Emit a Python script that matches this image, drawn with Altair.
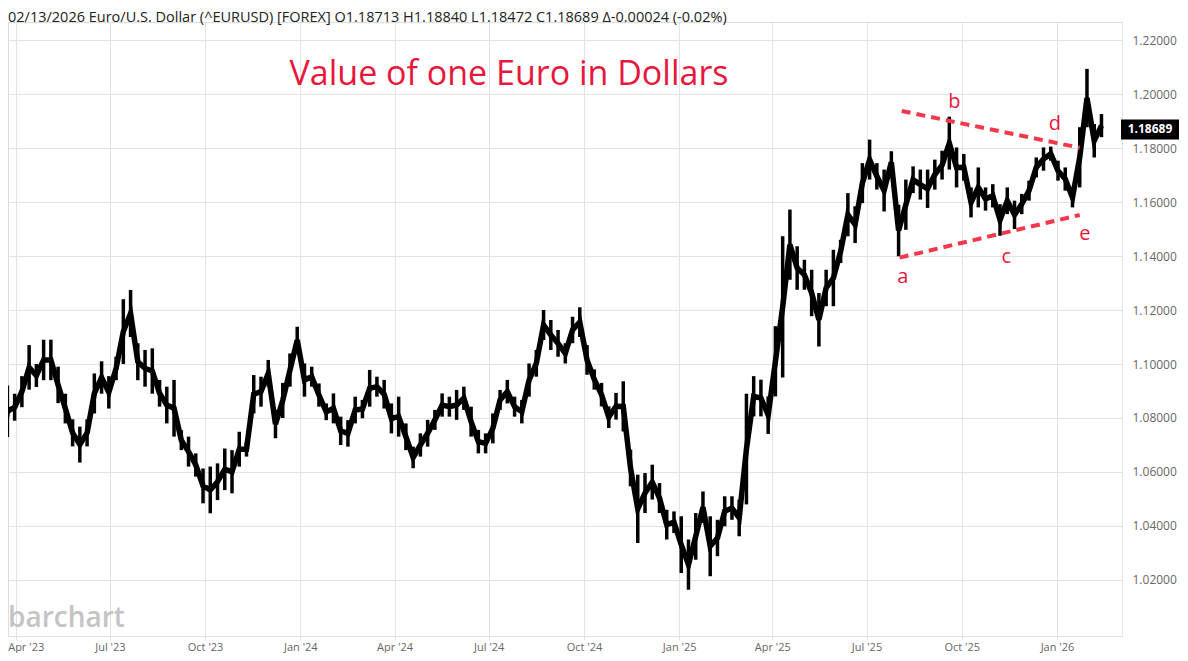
import altair as alt
import pandas as pd

# ---------------- data (weekly extents) ----------------
first_week = "2023-03-17"
lows = [
    1.0610, 1.0730, 1.0790, 1.0840, 1.0905, 1.0915, 1.0940, 1.0940, 1.0855, 1.0780,
    1.0695, 1.0635, 1.0695, 1.0817, 1.0890, 1.0835, 1.0940, 1.1000, 1.1100, 1.0940,
    1.0916, 1.0890, 1.0842, 1.0780, 1.0731, 1.0681, 1.0620, 1.0583, 1.0484, 1.0447,
    1.0496, 1.0533, 1.0521, 1.0620, 1.0657, 1.0817, 1.0842, 1.0916, 1.0725, 1.0800,
    1.0916, 1.1039, 1.0879, 1.0916, 1.0842, 1.0792, 1.0780, 1.0700, 1.0694, 1.0780,
    1.0799, 1.0842, 1.0879, 1.0835, 1.0743, 1.0731, 1.0681, 1.0614, 1.0657, 1.0694,
    1.0756, 1.0805, 1.0805, 1.0793, 1.0830, 1.0731, 1.0669, 1.0669, 1.0706, 1.0830,
    1.0854, 1.0805, 1.0780, 1.0879, 1.0953, 1.1089, 1.1052, 1.1027, 1.1002, 1.1077,
    1.1100, 1.0960, 1.0905, 1.0843, 1.0763, 1.0794, 1.0750, 1.0547, 1.0337, 1.0448,
    1.0498, 1.0448, 1.0350, 1.0374, 1.0226, 1.0164, 1.0275, 1.0411, 1.0214, 1.0288,
    1.0399, 1.0423, 1.0362, 1.0480, 1.0806, 1.0806, 1.0741, 1.0880, 1.0950, 1.1312,
    1.1275, 1.1275, 1.1177, 1.1065, 1.1214, 1.1214, 1.1374, 1.1473, 1.1448, 1.1596,
    1.1683, 1.1646, 1.1565, 1.1707, 1.1399, 1.1497, 1.1633, 1.1609, 1.1578, 1.1646,
    1.1683, 1.1720, 1.1654, 1.1679, 1.1543, 1.1580, 1.1568, 1.1580, 1.1475, 1.1555,
    1.1500, 1.1555, 1.1605, 1.1691, 1.1716, 1.1753, 1.1679, 1.1642, 1.1580, 1.1654,
    1.1877, 1.1765, 1.1840,
]
highs = [
    1.0720, 1.0920, 1.0890, 1.0955, 1.1070, 1.1000, 1.1090, 1.1090, 1.0990, 1.0890,
    1.0795, 1.0768, 1.0795, 1.0965, 1.1010, 1.0955, 1.1027, 1.1240, 1.1274, 1.1077,
    1.1052, 1.1058, 1.0941, 1.0916, 1.0941, 1.0755, 1.0731, 1.0669, 1.0613, 1.0620,
    1.0632, 1.0687, 1.0681, 1.0749, 1.0712, 1.0959, 1.0953, 1.1015, 1.0830, 1.0930,
    1.1039, 1.1138, 1.1002, 1.0990, 1.0928, 1.0854, 1.0891, 1.0805, 1.0792, 1.0879,
    1.0867, 1.0978, 1.0953, 1.0941, 1.0854, 1.0879, 1.0780, 1.0694, 1.0743, 1.0793,
    1.0830, 1.0891, 1.0879, 1.0904, 1.0916, 1.0842, 1.0756, 1.0743, 1.0817, 1.0904,
    1.0941, 1.0879, 1.0867, 1.1002, 1.1052, 1.1200, 1.1163, 1.1126, 1.1077, 1.1175,
    1.1210, 1.1070, 1.0980, 1.0930, 1.0843, 1.0893, 1.0936, 1.0683, 1.0590, 1.0596,
    1.0627, 1.0559, 1.0460, 1.0454, 1.0436, 1.0350, 1.0448, 1.0528, 1.0436, 1.0423,
    1.0510, 1.0510, 1.0498, 1.0890, 1.0955, 1.0942, 1.0880, 1.1140, 1.1473, 1.1572,
    1.1436, 1.1386, 1.1349, 1.1263, 1.1349, 1.1423, 1.1460, 1.1633, 1.1584, 1.1744,
    1.1831, 1.1744, 1.1720, 1.1788, 1.1590, 1.1683, 1.1732, 1.1720, 1.1720, 1.1757,
    1.1790, 1.1916, 1.1802, 1.1778, 1.1654, 1.1728, 1.1654, 1.1666, 1.1592, 1.1654,
    1.1605, 1.1630, 1.1679, 1.1765, 1.1802, 1.1805, 1.1753, 1.1728, 1.1654, 1.1877,
    1.2093, 1.1889, 1.1926,
]
dates = pd.date_range(first_week, periods=len(lows), freq="7D").strftime("%Y-%m-%d").tolist()

last_close = 1.18689
header = ("02/13/2026 Euro/U.S. Dollar (^EURUSD) [FOREX] O1.18713 H1.18840 "
          "L1.18472 C1.18689 \u0394-0.00024 (-0.02%)")
title_text = "Value of one Euro in Dollars"

tick_dates = ["2023-04-01", "2023-07-01", "2023-10-01", "2024-01-01", "2024-04-01",
              "2024-07-01", "2024-10-01", "2025-01-01", "2025-04-01", "2025-07-01",
              "2025-10-01", "2026-01-01"]
y_ticks = [1.02, 1.04, 1.06, 1.08, 1.10, 1.12, 1.14, 1.16, 1.18, 1.20, 1.22]

# triangle trend lines (b-d upper, a-e lower)
tl_start = ["2025-08-04", "2025-08-02"]
tl_end = ["2026-01-23", "2026-01-23"]
tl_y1 = [1.1937, 1.1394]
tl_y2 = [1.1801, 1.1552]

wave_labels = ["a", "b", "c", "d", "e"]
wave_dates = ["2025-08-05", "2025-09-24", "2025-11-13", "2025-12-30", "2026-01-28"]
wave_prices = [1.1322, 1.1970, 1.1396, 1.1889, 1.1481]

# ---------------- chart ----------------
FONT = "Open Sans"
W, H = 1114, 614
RED = "#e8173c"
GRID = "#e3e3e3"

df = pd.DataFrame({"date": dates, "lo": lows, "hi": highs})
tl = pd.DataFrame({"d1": tl_start, "d2": tl_end, "p1": tl_y1, "p2": tl_y2})
wl = pd.DataFrame({"date": wave_dates, "p": wave_prices, "t": wave_labels})
badge = pd.DataFrame({"v": [last_close], "t": [f"{last_close:.5f}"]})

xscale = alt.Scale(type="utc", domain=["2023-03-24T14:00:00Z", "2026-03-04T20:00:00Z"])
yscale = alt.Scale(domain=[0.999259, 1.226667], zero=False, nice=False)

xaxis = alt.Axis(
    title=None, values=[alt.DateTime(year=int(d[:4]), month=int(d[5:7]), date=1, utc=True) for d in tick_dates],
    format="%b '%y", labelFont=FONT, labelFontSize=11, labelColor="#666",
    grid=True, gridColor=GRID, tickColor=GRID, tickSize=4, domainColor=GRID,
    labelPadding=1, labelFlush=10, labelFlushOffset=8,
)
yaxis = alt.Axis(
    title=None, orient="right", values=y_ticks, format=".5f", labelFont=FONT,
    labelFontSize=12, labelColor="#666", grid=True, gridColor=GRID, ticks=False,
    domainColor=GRID, labelPadding=10,
)

mid = alt.Chart(df).transform_calculate(m="(datum.lo + datum.hi) / 2").mark_line(
    color="black", strokeWidth=5.5, clip=True
).encode(
    x=alt.X("date:T", scale=xscale, axis=xaxis),
    y=alt.Y("m:Q", scale=yscale, axis=yaxis),
)
spikes = alt.Chart(df).mark_rule(color="black", strokeWidth=3.5, clip=True).encode(
    x="date:T", y="lo:Q", y2="hi:Q"
)

lines = alt.Chart(tl).mark_rule(color="#f2384a", strokeWidth=4, strokeDash=[9, 6]).encode(
    x="d1:T", x2="d2:T", y="p1:Q", y2="p2:Q"
)
letters = alt.Chart(wl).mark_text(color=RED, font=FONT, fontSize=20, baseline="middle").encode(
    x="date:T", y="p:Q", text="t:N"
)

badge_box = alt.Chart(badge).mark_rect(color="black", yOffset=-10, y2Offset=10, clip=False).encode(
    x=alt.value(W - 1), x2=alt.value(W + 57), y="v:Q", y2="v:Q"
)
badge_txt = alt.Chart(badge).mark_text(color="white", font=FONT, fontSize=12, fontWeight="bold",
                                        align="center", baseline="middle").encode(
    x=alt.value(W + 28), y="v:Q", text="t:N"
)

hdr = alt.Chart(pd.DataFrame({"t": [header]})).mark_text(
    align="left", baseline="top", font=FONT, fontSize=14.5, color="#222"
).encode(x=alt.value(0), y=alt.value(-11), text="t:N")

ttl = alt.Chart(pd.DataFrame({"t": [title_text]})).mark_text(
    align="center", baseline="middle", font=FONT, fontSize=34, color=RED
).encode(x=alt.value(501), y=alt.value(53), text="t:N")

wm = alt.Chart(pd.DataFrame({"t": ["barchart"]})).mark_text(
    align="left", baseline="alphabetic", font=FONT, fontSize=28, fontWeight=600, color="#c4c4c4"
).encode(x=alt.value(0), y=alt.value(605), text="t:N")

chart = alt.layer(wm, spikes, mid, lines, letters, badge_box, badge_txt, hdr, ttl).properties(
    width=W, height=H,
    autosize=alt.AutoSizeParams(type="none"),
    padding={"left": 0, "top": 14, "right": 58, "bottom": 17},
).configure_view(stroke=None).configure(background="white")

chart.save("out.html", embed_options={"renderer": "svg", "actions": False})
